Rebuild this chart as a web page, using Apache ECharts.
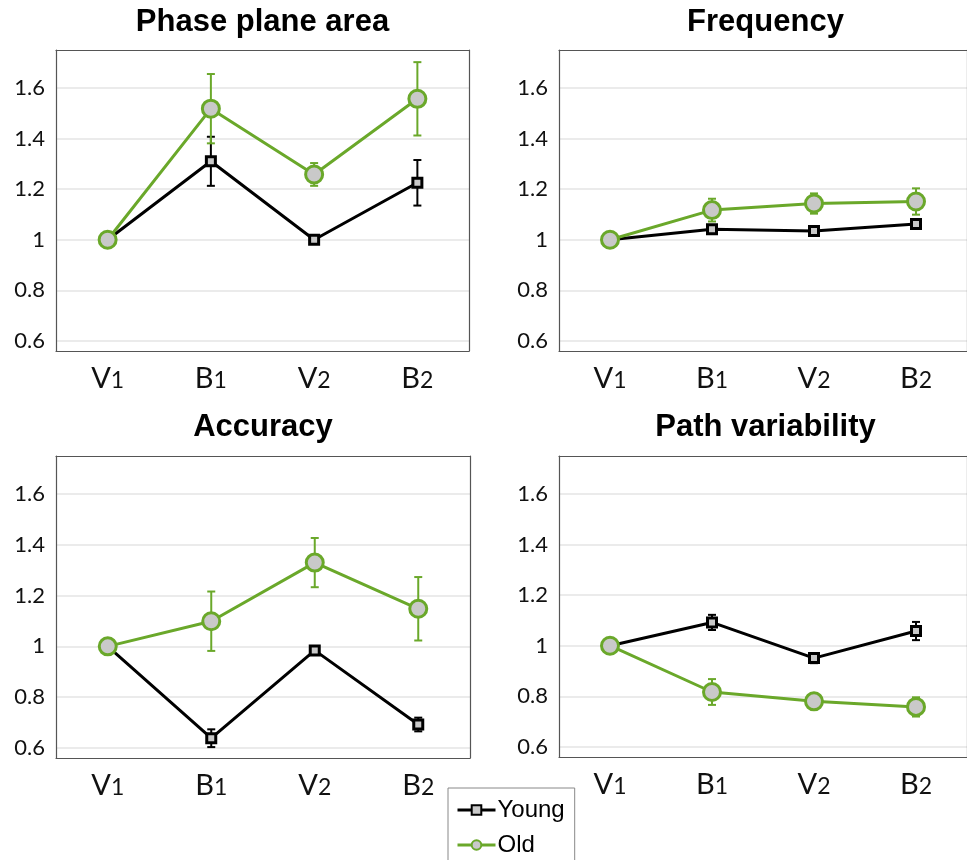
<!DOCTYPE html>
<html><head><meta charset="utf-8">
<script src="https://cdn.jsdelivr.net/npm/echarts@6/dist/echarts.min.js"></script>
<style>html,body{margin:0;padding:0;background:#fff}#c{width:967px;height:860px}</style>
</head><body><div id="c"></div>
<script>
const categories = ['V1','B1','V2','B2'];
const yTicks = [0.6, 0.8, 1.0, 1.2, 1.4, 1.6];
const panelTitles = ['Phase plane area','Frequency','Accuracy','Path variability'];

const phaseYoung = [1.0, 1.31, 1.0, 1.225];
const phaseYoungErr = [0.005, 0.097, 0.005, 0.09];
const phaseOld = [1.0, 1.518, 1.258, 1.557];
const phaseOldErr = [0.005, 0.137, 0.045, 0.145];

const freqYoung = [1.0, 1.041, 1.034, 1.062];
const freqYoungErr = [0.005, 0.01, 0.01, 0.012];
const freqOld = [1.0, 1.117, 1.143, 1.151];
const freqOldErr = [0.005, 0.045, 0.04, 0.052];

const accYoung = [1.0, 0.638, 0.984, 0.692];
const accYoungErr = [0.005, 0.035, 0.008, 0.027];
const accOld = [1.0, 1.099, 1.330, 1.148];
const accOldErr = [0.005, 0.117, 0.097, 0.125];

const pathYoung = [1.0, 1.092, 0.951, 1.058];
const pathYoungErr = [0.005, 0.03, 0.02, 0.036];
const pathOld = [1.0, 0.817, 0.780, 0.758];
const pathOldErr = [0.005, 0.051, 0.025, 0.038];

const panels = [
  [phaseYoung, phaseYoungErr, phaseOld, phaseOldErr],
  [freqYoung, freqYoungErr, freqOld, freqOldErr],
  [accYoung, accYoungErr, accOld, accOldErr],
  [pathYoung, pathYoungErr, pathOld, pathOldErr]
];

const GREEN = '#6aa82a';
const BLACK = '#000000';
const FILL = '#c9c9c9';
const AXIS = '#555555';

const grids = [
  {left:56, top:50, width:413, height:301},
  {left:559, top:50, width:413, height:301},
  {left:56, top:456, width:414, height:302},
  {left:559, top:456, width:413, height:301}
];

function errRender(color){
  return function(params, api){
    const x = api.value(0), lo = api.value(1), hi = api.value(2);
    const a = api.coord([x, lo]), b = api.coord([x, hi]);
    const w = 4;
    const st = {stroke: color, lineWidth: 2};
    return {type:'group', children:[
      {type:'line', shape:{x1:a[0], y1:a[1], x2:b[0], y2:b[1]}, style:st},
      {type:'line', shape:{x1:a[0]-w, y1:a[1], x2:a[0]+w, y2:a[1]}, style:st},
      {type:'line', shape:{x1:b[0]-w, y1:b[1], x2:b[0]+w, y2:b[1]}, style:st}
    ]};
  };
}

const title = [], xAxis = [], yAxis = [], series = [];
grids.forEach((g, i) => {
  const cx = g.left + g.width/2;
  title.push({text: panelTitles[i], left: cx, textAlign:'center', top: (i<2 ? 7 : 412), padding:0,
    textStyle:{fontFamily:'Liberation Sans', fontWeight:'bold', fontSize:31, color:'#000'}});
  xAxis.push({type:'category', gridIndex:i, data:categories, boundaryGap:true, position:'bottom',
    axisLine:{lineStyle:{color:AXIS, width:1.2}},
    axisTick:{inside:true, alignWithLabel:true, length:5, lineStyle:{color:AXIS}},
    axisLabel:{margin:13, color:'#111', formatter: v => '{a|' + v[0] + '}{b|' + v.slice(1) + '}',
      rich:{a:{fontFamily:'Lato', fontSize:29, color:'#111'}, b:{fontFamily:'Lato', fontSize:23, color:'#111', verticalAlign:'bottom', padding:[0,0,1,0]}}},
    splitLine:{show:false}});
  xAxis.push({type:'category', gridIndex:i, data:categories, boundaryGap:true, position:'top',
    axisLine:{lineStyle:{color:AXIS, width:1.2}},
    axisTick:{inside:true, alignWithLabel:true, length:5, lineStyle:{color:AXIS}},
    axisLabel:{show:false}, splitLine:{show:false}});
  yAxis.push({type:'value', gridIndex:i, min:0.56, max:1.75, position:'left',
    axisLine:{show:true, lineStyle:{color:AXIS, width:1.2}},
    axisTick:{show:false, customValues: yTicks},
    axisLabel:{customValues: yTicks, margin:11, fontFamily:'Lato', fontSize:22, color:'#111',
      formatter: v => (Math.abs(v-1)<1e-9 ? '1' : v.toFixed(1))},
    splitLine:{show:true, customValues: yTicks, lineStyle:{color:'#e4e4e4', width:1.5}}});
  yAxis.push({type:'value', gridIndex:i, min:0.56, max:1.75, position:'right',
    axisLine:{show:true, lineStyle:{color:AXIS, width:1.2}},
    axisTick:{show:false}, axisLabel:{show:false}, splitLine:{show:false}});

  const [yv, ye, ov, oe] = panels[i];
  const xi = i*2, yi = i*2;
  series.push({type:'custom', name:'Young error', xAxisIndex:xi, yAxisIndex:yi, z:2, silent:true,
    renderItem: errRender(BLACK), data: yv.map((v,k)=>[k, v-ye[k], v+ye[k]])});
  series.push({type:'custom', name:'Old error', xAxisIndex:xi, yAxisIndex:yi, z:3, silent:true,
    renderItem: errRender(GREEN), data: ov.map((v,k)=>[k, v-oe[k], v+oe[k]])});
  series.push({type:'line', name:'Young', xAxisIndex:xi, yAxisIndex:yi, z:4, data: yv,
    symbol:'rect', symbolSize:9, showAllSymbol:true,
    lineStyle:{color:BLACK, width:3}, itemStyle:{color:FILL, borderColor:BLACK, borderWidth:3}});
  series.push({type:'line', name:'Old', xAxisIndex:xi, yAxisIndex:yi, z:5, data: ov,
    symbol:'circle', symbolSize:17, showAllSymbol:true,
    lineStyle:{color:GREEN, width:3}, itemStyle:{color:FILL, borderColor:GREEN, borderWidth:3}});
});

const chart = echarts.init(document.getElementById('c'), null, {renderer:'canvas'});
chart.setOption({
  animation:false,
  backgroundColor:'#fff',
  title,
  grid: grids.map(g => Object.assign({containLabel:false}, g)),
  xAxis, yAxis, series,
  legend:{data:['Young','Old'], orient:'vertical', left:448, top:788, width:110, height:100,
    borderColor:'#888', borderWidth:1, padding:[10,10,8,8], itemGap:11,
    itemWidth:38, itemHeight:12,
    lineStyle:{width:3},
    textStyle:{fontFamily:'Liberation Sans', fontSize:24, color:'#000', padding:[0,0,0,-3]}}
});
</script></body></html>
